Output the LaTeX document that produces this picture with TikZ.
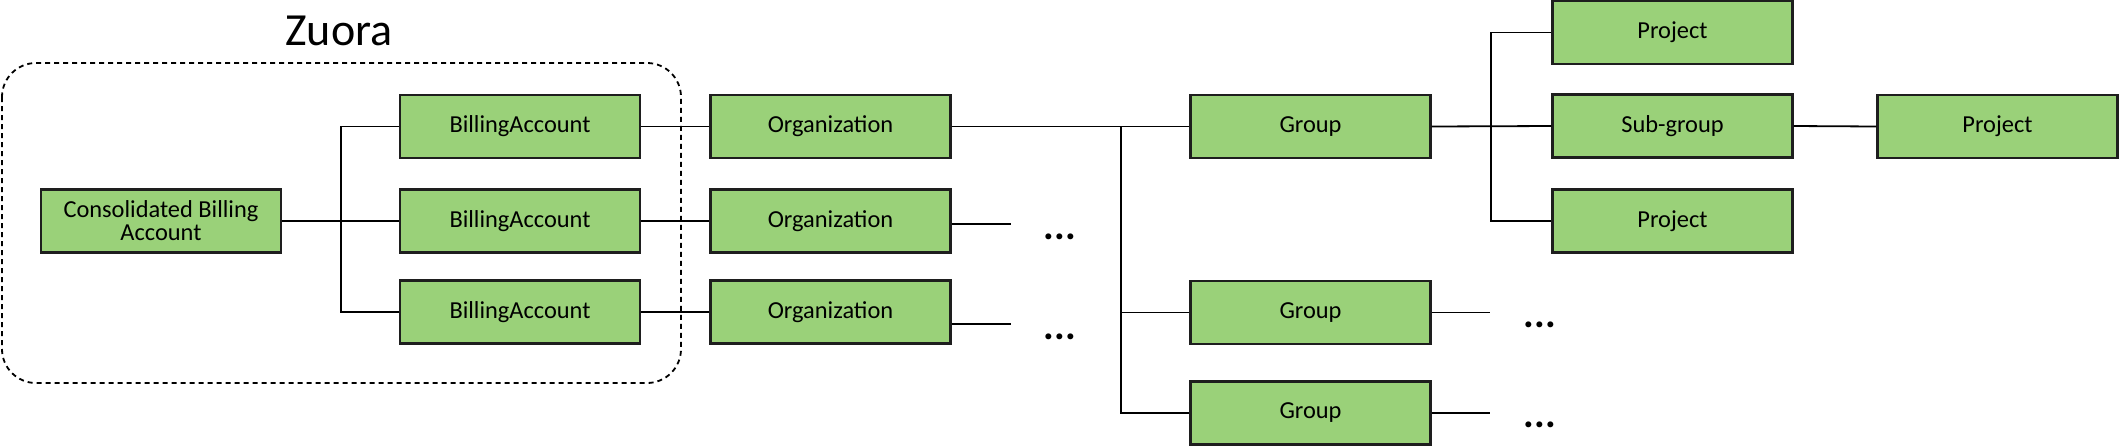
\documentclass[tikz,border=0pt]{standalone}
\usepackage{fontspec}
\setmainfont{Carlito}
\definecolor{boxgreen}{RGB}{154,209,121}
\definecolor{boxline}{RGB}{30,30,30}
\begin{document}
\begin{tikzpicture}[x=0.5pt,y=-0.5pt,
  ent/.style={draw=boxline,line width=1.1pt,fill=boxgreen,minimum width=120pt,minimum height=31.5pt,inner sep=0pt,font=\fontsize{12.2}{12}\selectfont,align=center},
  conn/.style={draw=black,line width=0.9pt},
  more/.style={font=\fontsize{20}{20}\selectfont\bfseries,inner sep=0pt}]
\useasboundingbox (0,0) rectangle (2120,446);
% Zuora group
\draw[line width=0.9pt,dash pattern=on 2.5pt off 2pt,rounded corners=17pt] (2,63) rectangle (681,383);
\node[anchor=base,font=\fontsize{23}{23}\selectfont,inner sep=0pt] (zuora) at (339,45) {Zuora};
% nodes
\node[ent] (cba) at (161,221) {Consolidated Billing\\[-0.5pt]Account};
\node[ent] (ba1) at (520,126.5) {BillingAccount};
\node[ent] (ba2) at (520,221) {BillingAccount};
\node[ent] (ba3) at (520,312) {BillingAccount};
\node[ent] (org1) at (830.5,126.5) {Organization};
\node[ent] (org2) at (830.5,221) {Organization};
\node[ent] (org3) at (830.5,312) {Organization};
\node[ent] (g1) at (1310.5,126.5) {Group};
\node[ent] (g2) at (1310.5,312.5) {Group};
\node[ent] (g3) at (1310.5,413) {Group};
\node[ent] (p1) at (1672.5,32.5) {Project};
\node[ent] (sg) at (1672.5,126) {Sub-group};
\node[ent] (p2) at (1672.5,221) {Project};
\node[ent] (p3) at (1997.5,126.5) {Project};
% bus coordinates
\coordinate (bus1) at (341,221);
\coordinate (bus2) at (1121,126.5);
\coordinate (bus3) at (1491,126);
% CBA to billing accounts
\draw[conn] (cba.east) -- (ba2.west);
\draw[conn] (ba1.west) -- (ba1.west -| bus1) -- (ba3.west -| bus1) -- (ba3.west);
% billing accounts to organizations
\draw[conn] (ba1.east) -- (org1.west);
\draw[conn] (ba2.east) -- (org2.west);
\draw[conn] (ba3.east) -- (org3.west);
% organization to groups
\draw[conn] (org1.east) -- (g1.west);
\draw[conn] (bus2) -- (g3.west -| bus2) -- (g3.west);
\draw[conn] (g2.west -| bus2) -- (g2.west);
% loose ends
\coordinate (e2) at (1011,224);
\coordinate (e3) at (1011,324);
\draw[conn] (org2.east |- e2) -- (e2);
\draw[conn] (org3.east |- e3) -- (e3);
\node[more] (d2) at (1060,237) {...};
\node[more] (d3) at (1060,337) {...};
% group to sub-group / projects
\draw[conn] (g1.east) -- (sg.west);
\draw[conn] (p1.west) -- (p1.west -| bus3) -- (p2.west -| bus3) -- (p2.west);
\draw[conn] (sg.east) -- (p3.west);
\coordinate (e4) at (1490,312.5);
\coordinate (e5) at (1490,413);
\draw[conn] (g2.east) -- (e4);
\draw[conn] (g3.east) -- (e5);
\node[more] (d4) at (1540,325) {...};
\node[more] (d5) at (1540,425) {...};
\end{tikzpicture}
\end{document}
